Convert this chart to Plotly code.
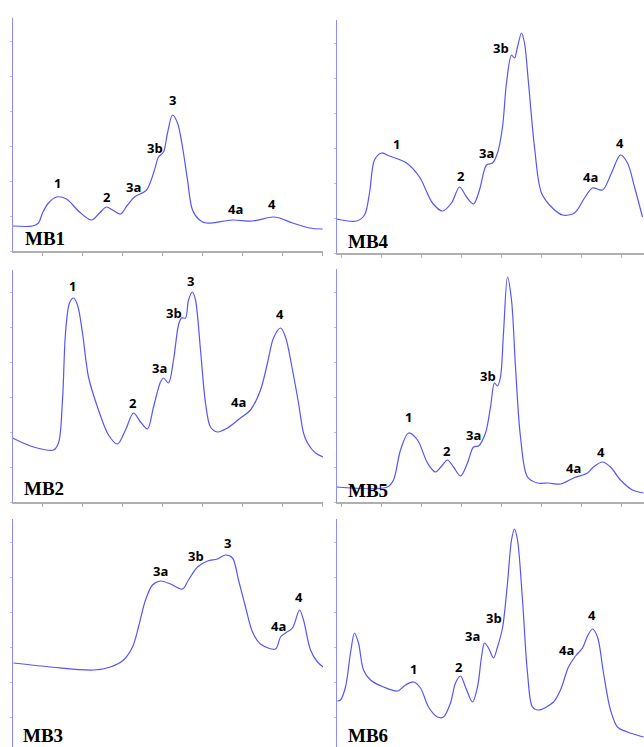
import plotly.graph_objects as go

# ---- chromatogram traces (time in min, detector signal in arbitrary units) ----
mb1_time = [0.0, 2.0, 2.6, 3.0, 3.6, 4.4, 5.4, 6.7, 7.9, 8.7, 9.4, 10.0, 10.8, 11.5,
            12.2, 13.4, 14.2, 14.6, 15.1, 15.5, 16.0, 16.5, 17.0, 17.5, 18.0, 18.7,
            19.4, 22.0, 24.0, 26.0, 26.7, 28.0, 29.7, 31.0]
mb1_signal = [25, 25, 28, 38, 48, 54, 52, 39, 31, 38, 44, 41, 37, 46,
              54, 61, 81, 94, 99, 118, 136, 128, 104, 71, 41, 31,
              28, 31, 30, 34, 33, 28, 23, 22]

mb4_time = [0.0, 2.0, 2.8, 3.3, 3.8, 4.5, 5.3, 7.0, 8.3, 9.6, 10.6, 11.5, 12.3, 13.0,
            13.7, 14.3, 15.0, 15.6, 16.1, 16.6, 17.0, 17.5, 17.8, 18.1, 18.5, 18.8,
            19.2, 19.8, 20.5, 21.6, 22.6, 23.8, 24.8, 25.6, 26.6, 27.5, 28.4, 29.1,
            29.8, 30.6]
mb4_signal = [34, 32, 38, 60, 93, 100, 97, 90, 76, 50, 42, 50, 66, 56,
              49, 63, 88, 90, 100, 126, 170, 198, 195, 206, 220, 210,
              170, 106, 60, 45, 38, 40, 55, 65, 63, 80, 98, 90,
              66, 36]

mb2_time = [0.0, 2.1, 4.1, 4.6, 5.0, 5.3, 5.7, 6.1, 6.5, 7.0, 7.6, 8.6, 9.6, 10.5,
            11.3, 12.1, 12.8, 13.5, 14.1, 14.8, 15.1, 15.6, 16.1, 16.6, 16.9, 17.3,
            17.6, 18.0, 18.3, 18.8, 19.3, 19.8, 20.5, 21.5, 22.8, 23.8, 24.8, 25.5,
            26.1, 26.8, 27.3, 28.0, 28.6, 29.1, 29.5, 30.3, 31.1]
mb2_signal = [64, 55, 52, 59, 102, 169, 199, 204, 197, 169, 125, 92, 67, 58,
              72, 89, 80, 73, 95, 120, 124, 119, 142, 177, 184, 184,
              202, 210, 202, 152, 99, 75, 70, 74, 84, 92, 112, 139,
              164, 174, 165, 132, 99, 69, 59, 49, 45]

mb5_time = [0.0, 5.1, 5.7, 6.4, 7.2, 8.1, 9.1, 9.9, 10.6, 11.1, 11.7, 12.4, 13.1,
            13.7, 14.2, 14.9, 15.4, 15.8, 16.1, 16.4, 16.7, 17.1, 17.5, 17.9, 18.4,
            19.1, 20.1, 21.2, 22.4, 23.7, 25.1, 25.7, 26.6, 27.4, 28.4, 29.6, 30.7]
mb5_signal = [15, 15, 22, 52, 69, 62, 39, 30, 37, 42, 35, 26, 39,
              55, 56, 69, 95, 119, 116, 125, 169, 225, 202, 135, 65,
              25, 19, 19, 18, 24, 29, 35, 40, 35, 22, 12, 9]

mb3_time = [0.1, 3.8, 8.1, 9.8, 11.1, 12.0, 12.6, 13.3, 14.0, 14.8, 15.8, 17.0, 17.6,
            18.5, 19.5, 20.5, 21.3, 22.0, 22.6, 23.3, 24.0, 24.8, 26.3, 26.8, 27.3,
            28.0, 28.7, 29.1, 29.8, 30.5, 31.1]
mb3_signal = [89, 85, 82, 85, 92, 105, 125, 152, 167, 171, 168, 163, 172,
              185, 191, 193, 197, 194, 172, 145, 120, 108, 103, 115, 119,
              124, 142, 132, 102, 90, 85]

mb6_time = [0.1, 0.4, 0.9, 1.4, 1.8, 2.2, 2.7, 3.4, 4.7, 6.1, 6.9, 7.7, 8.4, 9.2,
            10.1, 10.7, 11.4, 11.9, 12.4, 12.9, 13.6, 14.1, 14.5, 14.8, 15.2, 15.7,
            16.1, 16.6, 17.1, 17.5, 17.8, 18.1, 18.6, 19.1, 19.6, 20.2, 21.7, 22.4,
            23.2, 23.9, 24.6, 25.1, 25.6, 26.1, 26.7, 27.4, 28.1, 29.1, 30.7]
mb6_signal = [51, 52, 65, 99, 119, 109, 82, 72, 65, 61, 67, 70, 64, 45,
              35, 35, 49, 69, 76, 65, 50, 65, 95, 109, 104, 94,
              105, 124, 169, 212, 223, 212, 152, 79, 45, 42, 50, 62,
              85, 96, 104, 116, 123, 115, 79, 42, 25, 20, 15]

# ---- peak annotations: name, retention time, label height ----
mb1_peaks = ["1", "2", "3a", "3b", "3", "4a", "4"]
mb1_peak_x = [4.5, 9.4, 12.1, 14.2, 16.0, 22.3, 25.9]
mb1_peak_y = [68, 54, 64, 103, 151, 42, 47]

mb4_peaks = ["1", "2", "3a", "3b", "3", "4a", "4"]
mb4_peak_x = [6.0, 12.4, 15.0, 16.4, 18.4, 25.4, 28.3]
mb4_peak_y = [109, 77, 100, 205, 234, 76, 110]

mb2_peaks = ["1", "2", "3a", "3b", "3", "4a", "4"]
mb2_peak_x = [6.0, 12.0, 14.7, 16.1, 17.8, 22.6, 26.7]
mb2_peak_y = [216, 99, 134, 189, 221, 100, 188]

mb5_peaks = ["1", "2", "3a", "3b", "3", "4a", "4"]
mb5_peak_x = [7.2, 11.0, 13.7, 15.1, 17.1, 23.7, 26.4]
mb5_peak_y = [85, 51, 67, 126, 236, 34, 50]

mb3_peaks = ["3a", "3b", "3", "4a", "4"]
mb3_peak_x = [14.8, 18.3, 21.5, 26.6, 28.6]
mb3_peak_y = [181, 196, 209, 126, 155]

mb6_peaks = ["1", "2", "3a", "3b", "3", "4a", "4"]
mb6_peak_x = [7.7, 12.2, 13.6, 15.7, 17.7, 23.0, 25.5]
mb6_peak_y = [83, 85, 116, 134, 235, 102, 137]

sample_names = ["MB1", "MB4", "MB2", "MB5", "MB3", "MB6"]

TRACE_COLOR = "rgb(85,85,250)"
YLINE_COLOR = "rgb(140,140,255)"
YTICK_COLOR = "rgb(185,185,255)"
XLINE_COLOR = "rgb(175,175,175)"
W, H = 644, 747

# panel boxes in pixels (left, right, top, bottom), y-range, label position in domain units
panels = [
    dict(t=mb1_time, s=mb1_signal, pk=mb1_peaks, px=mb1_peak_x, py=mb1_peak_y,
         box=(12.5, 323, 18, 251), yr=(0, 233), xr=(0, 31.05), lab=(0.034, 0.052, "middle"),
         xline=True, tick0=3),
    dict(t=mb4_time, s=mb4_signal, pk=mb4_peaks, px=mb4_peak_x, py=mb4_peak_y,
         box=(336.5, 644, 20, 253), yr=(0, 233), xr=(0, 30.75), lab=(0.031, 0.05, "middle"),
         xline=True, tick0=0.5),
    dict(t=mb2_time, s=mb2_signal, pk=mb2_peaks, px=mb2_peak_x, py=mb2_peak_y,
         box=(12.5, 323, 270, 502), yr=(0, 232), xr=(0, 31.05), lab=(0.031, 0.058, "middle"),
         xline=True, tick0=3),
    dict(t=mb5_time, s=mb5_signal, pk=mb5_peaks, px=mb5_peak_x, py=mb5_peak_y,
         box=(336.5, 644, 269, 502), yr=(0, 233), xr=(0, 30.75), lab=(0.031, 0.05, "middle"),
         xline=True, tick0=0.5),
    dict(t=mb3_time, s=mb3_signal, pk=mb3_peaks, px=mb3_peak_x, py=mb3_peak_y,
         box=(12.5, 323, 519, 747), yr=(5, 233), xr=(0, 31.05), lab=(0.027, -0.004, "bottom"),
         xline=False, tick0=3),
    dict(t=mb6_time, s=mb6_signal, pk=mb6_peaks, px=mb6_peak_x, py=mb6_peak_y,
         box=(336.5, 644, 519, 747), yr=(5, 233), xr=(0, 30.75), lab=(0.031, -0.004, "bottom"),
         xline=False, tick0=0.5),
]

fig = go.Figure()
annotations = []
layout_axes = {}

for i, (name, p) in enumerate(zip(sample_names, panels), start=1):
    sfx = "" if i == 1 else str(i)
    left, right, top, bottom = p["box"]
    fig.add_trace(go.Scatter(
        x=p["t"], y=p["s"], mode="lines", name=name,
        line=dict(color=TRACE_COLOR, width=1.2, shape="spline", smoothing=0.9),
        xaxis="x" + sfx, yaxis="y" + sfx, showlegend=False, hoverinfo="skip",
    ))
    layout_axes["xaxis" + sfx] = dict(
        domain=[left / W, right / W], range=list(p["xr"]), anchor="y" + sfx,
        showgrid=False, zeroline=False, showticklabels=False,
        showline=p["xline"], linecolor=XLINE_COLOR, linewidth=1.6,
        ticks="outside" if p["xline"] else "", ticklen=3, tickcolor=XLINE_COLOR,
        tickwidth=1, tick0=p["tick0"], dtick=4,
    )
    layout_axes["yaxis" + sfx] = dict(
        domain=[1 - bottom / H, 1 - top / H], range=list(p["yr"]), anchor="x" + sfx,
        showgrid=False, zeroline=False, showticklabels=False,
        showline=True, linecolor=YLINE_COLOR, linewidth=1,
        ticks="outside", ticklen=2, tickcolor=YTICK_COLOR, tickwidth=1, tick0=0, dtick=35,
    )
    for label, x, y in zip(p["pk"], p["px"], p["py"]):
        annotations.append(dict(
            x=x, y=y, xref="x" + sfx, yref="y" + sfx, text=label, showarrow=False,
            font=dict(family="Open Sans", size=13, color="black", weight="bold"),
            xanchor="center", yanchor="middle",
        ))
    lx, ly, lanchor = p["lab"]
    annotations.append(dict(
        x=lx, y=ly, xref="x" + sfx + " domain", yref="y" + sfx + " domain",
        text="<b>" + name + "</b>", showarrow=False,
        font=dict(family="Liberation Serif", size=19, color="black"),
        xanchor="left", yanchor=lanchor,
    ))

fig.update_layout(
    width=W, height=H, margin=dict(l=0, r=0, t=0, b=0),
    paper_bgcolor="white", plot_bgcolor="white",
    annotations=annotations, **layout_axes,
)

fig.write_html("out.html")
